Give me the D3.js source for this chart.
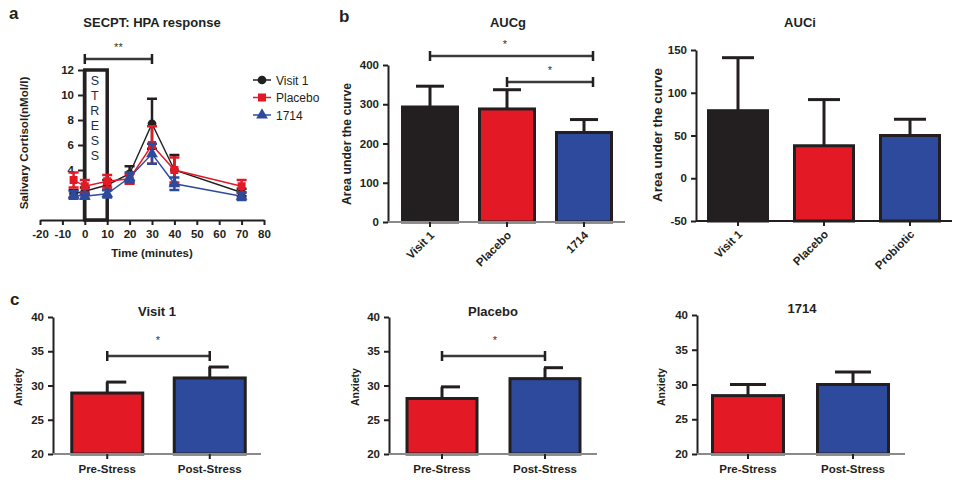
<!DOCTYPE html>
<html><head><meta charset="utf-8">
<script src="https://cdn.jsdelivr.net/npm/d3@7"></script>
<style>body{margin:0;background:#fff}svg{display:block;font-family:"Liberation Sans",Arial,sans-serif}</style>
</head><body><svg id="c" width="953" height="483"></svg>
<script>
// ---------- DATA ----------
const timePoints = [-5, 0, 10, 20, 30, 40, 70];
const xTicksA = [-20, -10, 0, 10, 20, 30, 40, 50, 60, 70, 80];
const yTicksA = [4, 6, 8, 10, 12];
const visit1Mean = [2.1, 2.3, 2.8, 3.7, 7.7, 4.0, 2.2];
const visit1Err  = [0.3, 0.3, 0.4, 0.6, 2.0, 1.2, 0.3];
const placeboMean = [3.2, 2.7, 3.1, 3.3, 6.0, 4.0, 2.7];
const placeboErr  = [0.6, 0.5, 0.5, 0.4, 1.5, 1.0, 0.5];
const probioticMean = [2.0, 1.9, 2.1, 3.4, 5.3, 2.9, 1.9];
const probioticErr  = [0.3, 0.2, 0.3, 0.4, 0.8, 0.5, 0.3];
const seriesNames = ["Visit 1", "Placebo", "1714"];

const aucgCats = ["Visit 1", "Placebo", "1714"];
const aucgVals = [293, 288, 228];
const aucgErr  = [53, 49, 33];
const aucgTicks = [0, 100, 200, 300, 400];

const auciCats = ["Visit 1", "Placebo", "Probiotic"];
const auciVals = [79, 38, 50];
const auciErr  = [62, 54, 19];
const auciTicks = [-50, 0, 50, 100, 150];

const anxCats = ["Pre-Stress", "Post-Stress"];
const anxTicks = [20, 25, 30, 35, 40];
const anxVisit1 = [28.9, 31.1];
const anxVisit1Err = [1.6, 1.6];
const anxPlacebo = [28.1, 31.0];
const anxPlaceboErr = [1.7, 1.6];
const anx1714 = [28.4, 30.0];
const anx1714Err = [1.6, 1.8];

// ---------- STYLE ----------
const BLACK = "#231f20", RED = "#e31a25", BLUE = "#2e4a9d", GREY = "#8a8a8a";
const svg = d3.select("#c");
const fmt = d => String(d);

function txt(g, x, y, s, o = {}) {
  const t = g.append("text").attr("x", x).attr("y", y).text(s)
    .attr("font-size", o.size || 11).attr("font-weight", o.weight || "bold")
    .attr("fill", o.fill || BLACK).attr("text-anchor", o.anchor || "middle");
  if (o.rotate) t.attr("transform", `rotate(${o.rotate},${x},${y})`);
  return t;
}

function yAxis(g, y, x, ticks) {
  const ax = g.append("g").attr("transform", `translate(${x},0)`)
    .call(d3.axisLeft(y).tickValues(ticks).tickFormat(fmt).tickSize(5).tickSizeOuter(0).tickPadding(4));
  ax.select(".domain").attr("stroke", BLACK).attr("stroke-width", 2);
  ax.selectAll(".tick line").attr("stroke", BLACK).attr("stroke-width", 2);
  ax.selectAll(".tick text").attr("font-size", 11.5).attr("font-weight", "bold")
    .attr("fill", BLACK).attr("font-family", "Liberation Sans, Arial, sans-serif");
  return ax;
}

function sigBar(g, x1, x2, y, starX, starY, stars) {
  g.append("line").attr("x1", x1).attr("x2", x2).attr("y1", y).attr("y2", y)
    .attr("stroke", "#3a3a3a").attr("stroke-width", 2.5);
  [x1, x2].forEach(xx => g.append("line").attr("x1", xx).attr("x2", xx)
    .attr("y1", y - 5).attr("y2", y + 5).attr("stroke", BLACK).attr("stroke-width", 2.5));
  txt(g, starX, starY, stars, {size: 11, weight: "normal", fill: "#333"});
}

// ---------- PANEL A ----------
(function () {
  const g = svg.append("g");
  const x = d3.scaleLinear().domain([-20, 80]).range([40, 264]);
  const y = d3.scaleLinear().domain([0, 12]).range([220, 70]);
  txt(g, 9, 19, "a", {size: 17, anchor: "start"});
  txt(g, 152, 27, "SECPT: HPA response", {size: 13});
  const ya = yAxis(g, y, 83, yTicksA);
  ya.select(".domain").attr("stroke", "#999");
  const xa = g.append("g").attr("transform", "translate(0,220)")
    .call(d3.axisBottom(x).tickValues(xTicksA).tickFormat(fmt).tickSize(5).tickSizeOuter(0).tickPadding(5));
  xa.select(".domain").attr("stroke", BLACK).attr("stroke-width", 2);
  xa.selectAll(".tick line").attr("stroke", BLACK).attr("stroke-width", 2);
  xa.selectAll(".tick text").attr("font-size", 11.5).attr("font-weight", "bold").attr("fill", BLACK)
    .attr("font-family", "Liberation Sans, Arial, sans-serif");
  txt(g, 152, 257, "Time (minutes)", {size: 11.5});
  txt(g, 28, 143, "Salivary Cortisol(nMol/l)", {size: 11.6, rotate: -90});
  g.append("rect").attr("x", x(0)).attr("y", y(12)).attr("width", x(10) - x(0))
    .attr("height", y(0) - y(12)).attr("fill", "none").attr("stroke", BLACK).attr("stroke-width", 3.5);
  "STRESS".split("").forEach((c, i) => txt(g, x(0) + 10, 85 + i * 15, c, {size: 12.5, weight: "normal", fill: "#1f2a44"}));
  sigBar(g, x(0), x(30), 59, x(15), 51, "**");
  const series = [
    {name: seriesNames[0], m: visit1Mean, e: visit1Err, c: BLACK, sym: d3.symbolCircle, size: 60},
    {name: seriesNames[1], m: placeboMean, e: placeboErr, c: RED, sym: d3.symbolSquare, size: 64},
    {name: seriesNames[2], m: probioticMean, e: probioticErr, c: BLUE, sym: d3.symbolTriangle, size: 60}
  ];
  const line = d3.line().x((d, i) => x(timePoints[i])).y(d => y(d));
  series.forEach(s => {
    const sg = g.append("g");
    s.m.forEach((v, i) => {
      const cx = x(timePoints[i]);
      sg.append("line").attr("x1", cx).attr("x2", cx).attr("y1", y(v - s.e[i])).attr("y2", y(v + s.e[i]))
        .attr("stroke", s.c).attr("stroke-width", 2.5);
      [v - s.e[i], v + s.e[i]].forEach(w => sg.append("line").attr("x1", cx - 5).attr("x2", cx + 5)
        .attr("y1", y(w)).attr("y2", y(w)).attr("stroke", s.c).attr("stroke-width", 2.5));
    });
    sg.append("path").datum(s.m).attr("d", line).attr("fill", "none").attr("stroke", s.c).attr("stroke-width", 1.4);
    sg.selectAll("path.m").data(s.m).join("path").attr("class", "m")
      .attr("transform", (d, i) => `translate(${x(timePoints[i])},${y(d)})`)
      .attr("d", d3.symbol().type(s.sym).size(s.size)).attr("fill", s.c);
  });
  series.forEach((s, i) => {
    const ly = 80 + i * 17.5;
    g.append("line").attr("x1", 253).attr("x2", 271).attr("y1", ly).attr("y2", ly).attr("stroke", s.c).attr("stroke-width", 1.5);
    g.append("path").attr("transform", `translate(262,${ly})`).attr("d", d3.symbol().type(s.sym).size(s.size)).attr("fill", s.c);
    txt(g, 276, ly + 4.5, s.name, {size: 12, weight: "normal", anchor: "start"});
  });
})();

// ---------- BAR PANEL HELPER ----------
function barPanel(o) {
  const g = svg.append("g");
  const y = d3.scaleLinear().domain(o.domain).range([o.yBottom, o.yTop]);
  const step = (o.range[1] - o.range[0]) / o.cats.length;
  const pi = 1 - o.barW / step;
  const x = d3.scaleBand().domain(o.cats).range(o.range).paddingInner(pi).paddingOuter(pi / 2);
  yAxis(g, y, o.axisX, o.ticks);
  o.cats.forEach((c, i) => {
    const v = o.vals[i], e = o.errs[i];
    const cx = x(c) + x.bandwidth() / 2;
    g.append("line").attr("x1", cx).attr("x2", cx).attr("y1", y(v)).attr("y2", y(v + e))
      .attr("stroke", BLACK).attr("stroke-width", 3);
    g.append("line").attr("x1", cx - o.capL).attr("x2", cx + o.capR).attr("y1", y(v + e)).attr("y2", y(v + e))
      .attr("stroke", BLACK).attr("stroke-width", 3);
    g.append("rect").attr("x", x(c)).attr("y", y(v)).attr("width", x.bandwidth())
      .attr("height", y(o.domain[0]) - y(v)).attr("fill", o.colors[i]).attr("stroke", BLACK).attr("stroke-width", 3);
  });
  g.append("line").attr("x1", o.axisX).attr("x2", o.axisEnd).attr("y1", o.yBottom).attr("y2", o.yBottom)
    .attr("stroke", o.baseColor || GREY).attr("stroke-width", 2);
  o.cats.forEach((c, i) => {
    const cx = x(c) + x.bandwidth() / 2;
    g.append("line").attr("x1", cx).attr("x2", cx).attr("y1", o.yBottom).attr("y2", o.yBottom + 5)
      .attr("stroke", BLACK).attr("stroke-width", 2);
    if (o.rotated) txt(g, cx + 5, o.yBottom + 14, c, {size: 11.5, anchor: "end", rotate: -45});
    else txt(g, cx, o.yBottom + 19, c, {size: 11.5});
  });
  if (o.title) txt(g, o.titleX, o.titleY, o.title, {size: 13});
  txt(g, o.labelX, o.labelY, o.ylabel, {size: o.labelSize || 12, rotate: -90});
  return {g, x, y, cx: c => x(c) + x.bandwidth() / 2};
}

// ---------- PANEL B ----------
txt(svg, 339, 22, "b", {size: 17, anchor: "start"});
const pg = barPanel({domain: [0, 400], yTop: 65, yBottom: 222, axisX: 388, axisEnd: 625,
  range: [391.5, 622.5], barW: 55, cats: aucgCats, vals: aucgVals, errs: aucgErr,
  colors: [BLACK, RED, BLUE], ticks: aucgTicks, capL: 14, capR: 14, rotated: true,
  title: "AUCg", titleX: 508, titleY: 27, ylabel: "Area under the curve", labelX: 351, labelY: 144, labelSize: 12.2});
sigBar(pg.g, pg.cx("Visit 1"), pg.cx("1714") + 9, 56, 505, 48, "*");
sigBar(pg.g, pg.cx("Placebo"), pg.cx("1714") + 9, 82, 550, 74, "*");

barPanel({domain: [-50, 150], yTop: 50, yBottom: 221, axisX: 696, axisEnd: 952,
  range: [695, 953], barW: 59, cats: auciCats, vals: auciVals, errs: auciErr,
  colors: [BLACK, RED, BLUE], ticks: auciTicks, capL: 16, capR: 16, rotated: true, baseColor: BLACK,
  title: "AUCi", titleX: 800, titleY: 27, ylabel: "Area under the curve", labelX: 662, labelY: 135, labelSize: 13.4});

// ---------- PANEL C ----------
txt(svg, 10, 305, "c", {size: 17, anchor: "start"});
const c1 = barPanel({domain: [20, 40], yTop: 317, yBottom: 454, axisX: 53, axisEnd: 261,
  range: [56, 261], barW: 71, cats: anxCats, vals: anxVisit1, errs: anxVisit1Err,
  colors: [RED, BLUE], ticks: anxTicks, capL: 1, capR: 19,
  title: "Visit 1", titleX: 157, titleY: 316, ylabel: "Anxiety", labelX: 22, labelY: 387, labelSize: 10.5});
sigBar(c1.g, c1.cx("Pre-Stress"), c1.cx("Post-Stress"), 356, 158, 344, "*");

const c2 = barPanel({domain: [20, 40], yTop: 317, yBottom: 454, axisX: 389, axisEnd: 597,
  range: [390.5, 596.5], barW: 70, cats: anxCats, vals: anxPlacebo, errs: anxPlaceboErr,
  colors: [RED, BLUE], ticks: anxTicks, capL: 1, capR: 18,
  title: "Placebo", titleX: 493, titleY: 316, ylabel: "Anxiety", labelX: 359, labelY: 387, labelSize: 10.5});
sigBar(c2.g, c2.cx("Pre-Stress"), c2.cx("Post-Stress"), 356, 495, 344, "*");

barPanel({domain: [20, 40], yTop: 315, yBottom: 454, axisX: 697, axisEnd: 905,
  range: [695.5, 905.5], barW: 71, cats: anxCats, vals: anx1714, errs: anx1714Err,
  colors: [RED, BLUE], ticks: anxTicks, capL: 18, capR: 18,
  title: "1714", titleX: 802, titleY: 313, ylabel: "Anxiety", labelX: 665, labelY: 387, labelSize: 10.5});
</script></body></html>
